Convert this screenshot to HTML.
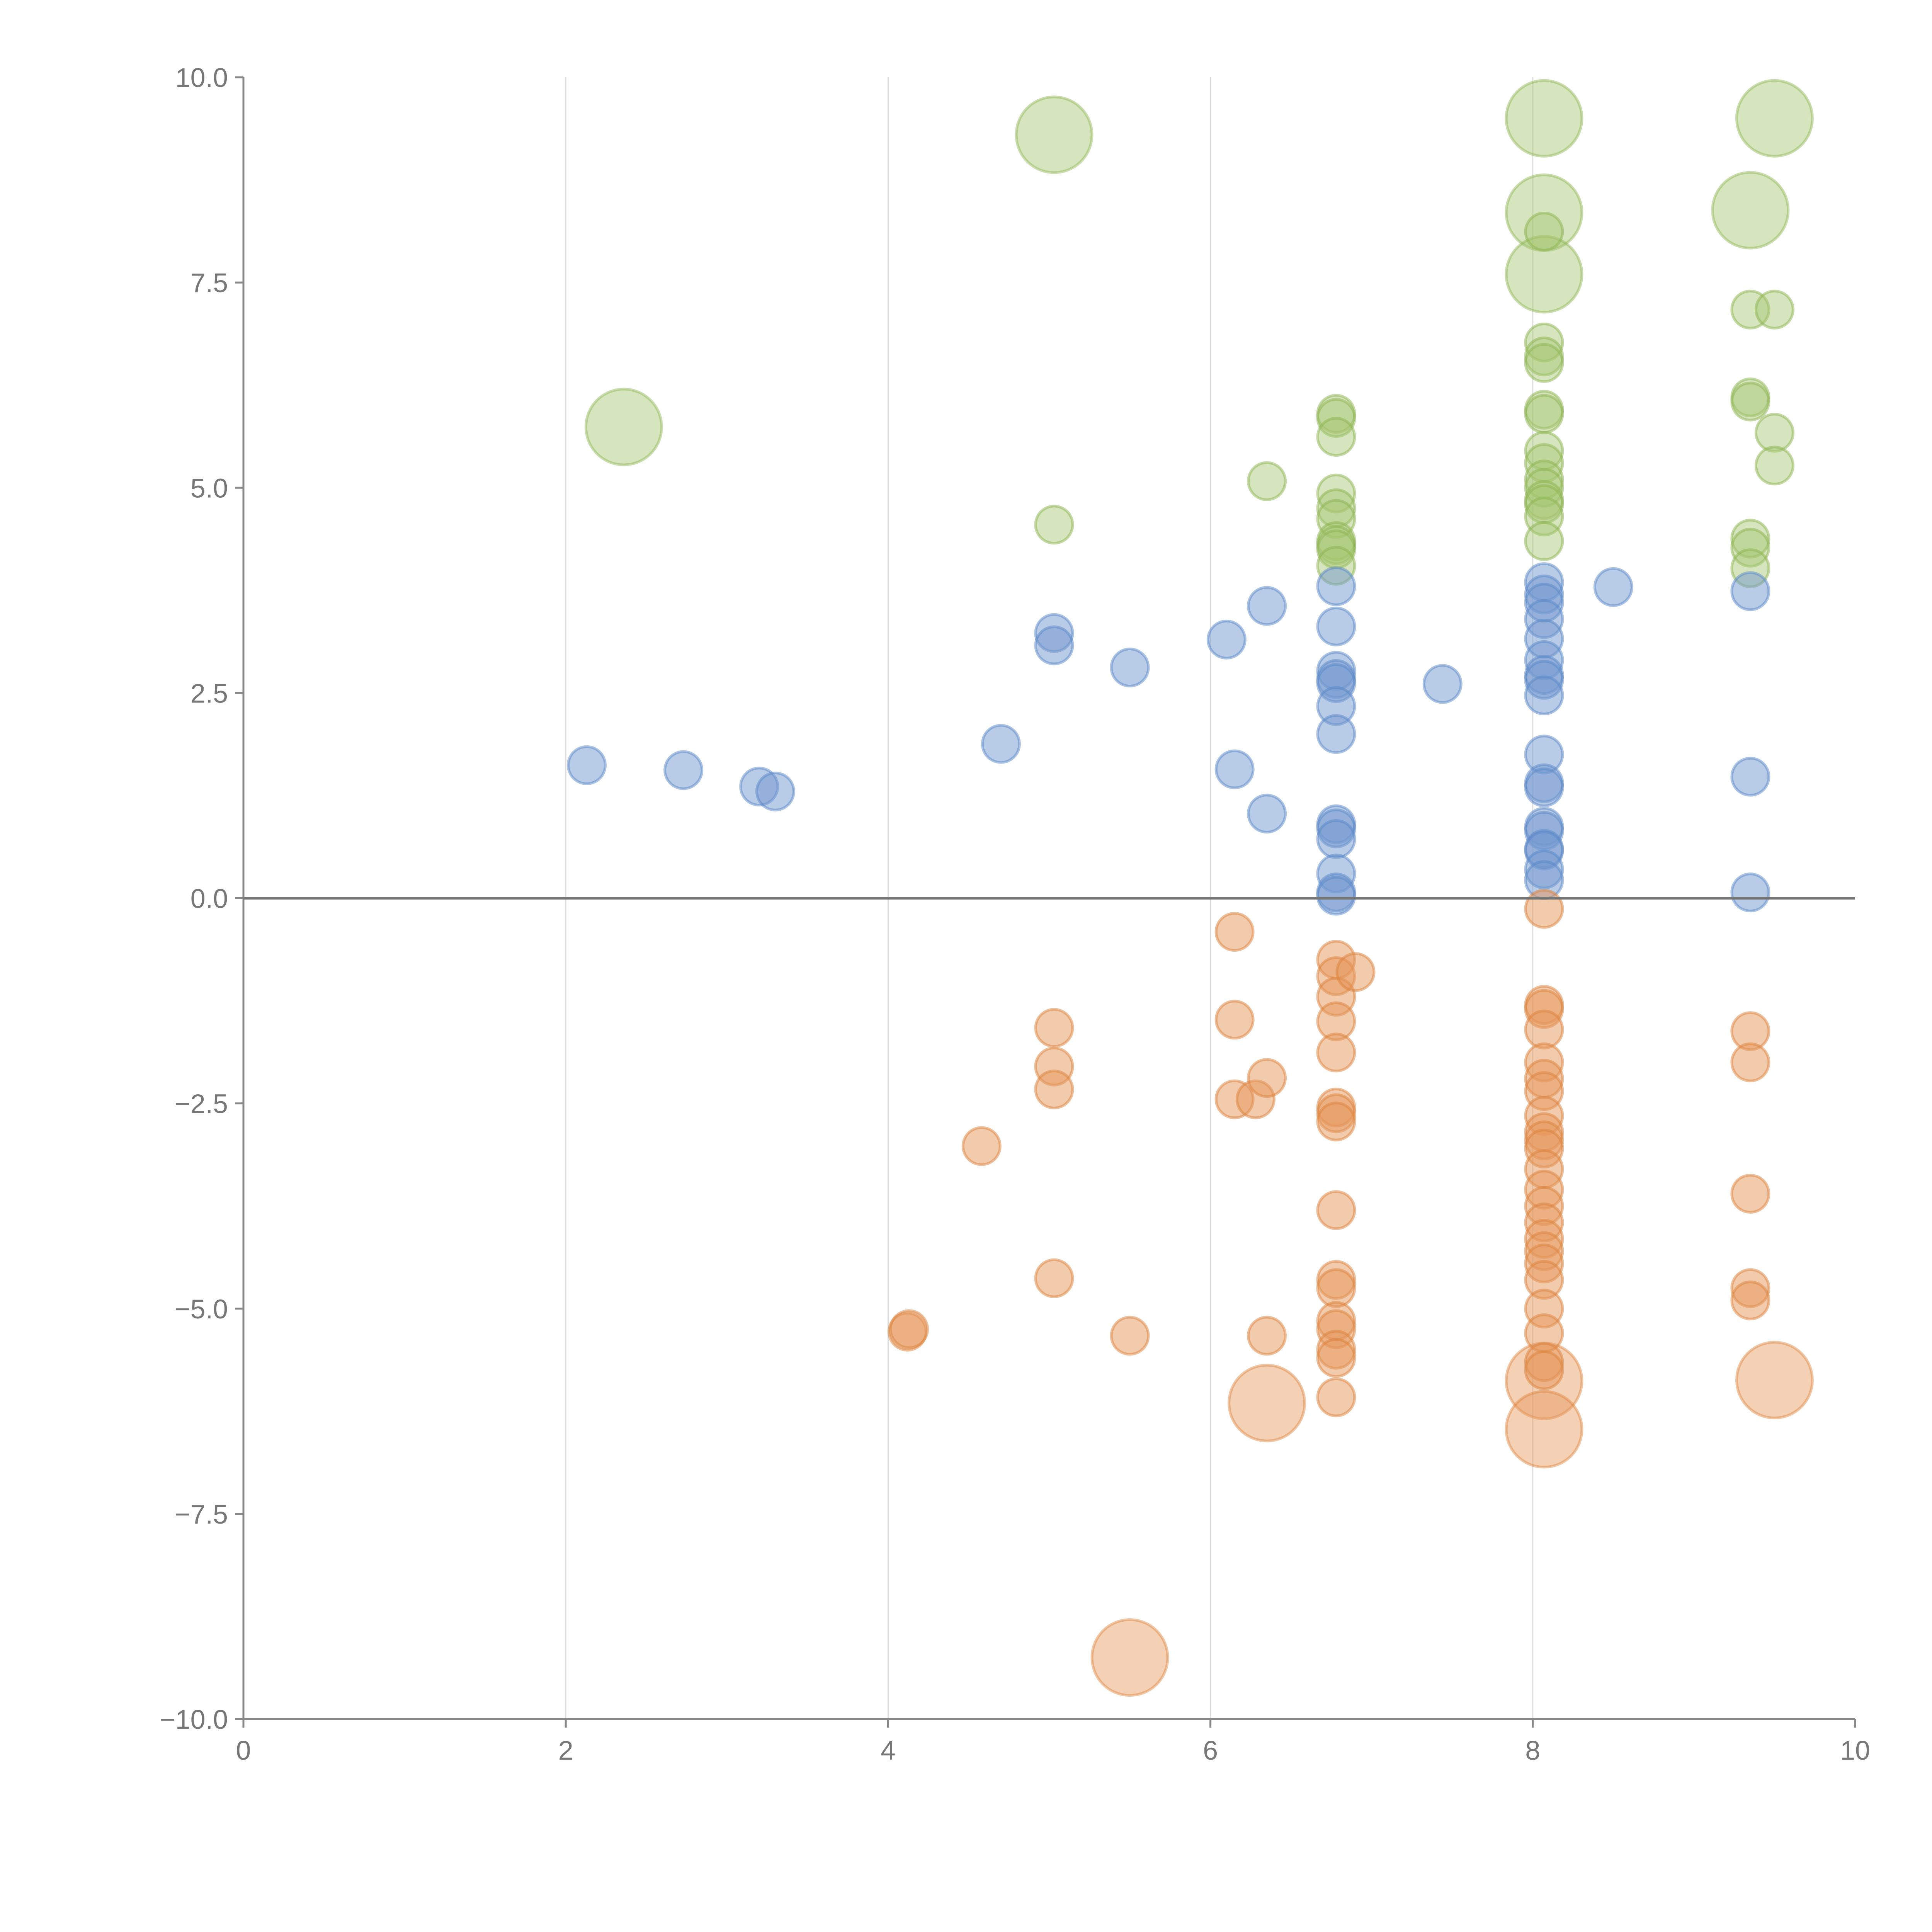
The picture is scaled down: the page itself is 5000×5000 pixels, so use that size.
<!DOCTYPE html>
<html><head><meta charset="utf-8"><style>html,body{margin:0;padding:0;background:#fff}svg{display:block}</style></head>
<body>
<svg id="chart" width="5000" height="5000" xmlns="http://www.w3.org/2000/svg" font-family="Liberation Sans, sans-serif"></svg>
<script>
const xTicks=[0,2,4,6,8,10];
const yTicks=[-10,-7.5,-5,-2.5,0,2.5,5,7.5,10];
const blueX=[2.13,2.73,3.2,3.3,4.7,5.03,5.03,5.5,6.1,6.15,6.35,6.35,6.78,6.78,6.78,6.78,6.78,6.78,6.78,6.78,6.78,6.78,6.78,6.78,6.78,7.44,8.07,8.07,8.07,8.07,8.07,8.07,8.07,8.07,8.07,8.07,8.07,8.07,8.07,8.07,8.07,8.07,8.07,8.07,8.5,9.35,9.35,9.35];
const blueY=[1.62,1.56,1.36,1.3,1.88,3.23,3.08,2.81,3.15,1.57,3.56,1.03,3.8,3.31,2.77,2.67,2.62,2.34,2.0,0.9,0.85,0.72,0.3,0.07,0.03,2.61,3.85,3.7,3.6,3.4,3.16,2.9,2.72,2.66,2.47,1.75,1.4,1.35,0.87,0.82,0.6,0.58,0.35,0.22,3.79,3.74,1.48,0.07];
const greenX=[5.03,6.35,6.78,6.78,6.78,6.78,6.78,6.78,6.78,6.78,6.78,6.78,8.07,8.07,8.07,8.07,8.07,8.07,8.07,8.07,8.07,8.07,8.07,8.07,8.07,8.07,9.35,9.35,9.35,9.35,9.35,9.35,9.5,9.5,9.5];
const greenY=[4.55,5.08,5.9,5.85,5.62,4.93,4.75,4.62,4.35,4.3,4.25,4.05,8.12,6.77,6.6,6.52,5.95,5.9,5.45,5.3,5.1,5.0,4.85,4.8,4.65,4.35,7.17,6.1,6.05,4.38,4.27,4.02,7.17,5.67,5.27];
const greenBigX=[2.36,5.03,8.07,8.07,8.07,9.35,9.5];
const greenBigY=[5.74,9.3,9.5,8.35,7.6,8.38,9.5];
const orangeX=[6.15,6.78,6.78,6.78,6.78,6.78,6.78,6.78,6.78,6.78,6.78,6.78,6.78,6.78,6.78,6.78,6.78,6.9,5.03,5.03,5.03,5.03,6.15,6.15,6.28,6.35,4.58,4.12,4.13,5.5,6.35,8.07,8.07,8.07,8.07,8.07,8.07,8.07,8.07,8.07,8.07,8.07,8.07,8.07,8.07,8.07,8.07,8.07,8.07,8.07,8.07,8.07,8.07,8.07,9.35,9.35,9.35,9.35,9.35];
const orangeY=[-0.41,-0.75,-0.95,-1.2,-1.5,-1.88,-2.55,-2.62,-2.72,-3.8,-4.65,-4.75,-5.15,-5.25,-5.5,-5.6,-6.08,-0.9,-1.58,-2.05,-2.33,-4.63,-1.48,-2.45,-2.45,-2.19,-3.02,-5.28,-5.25,-5.33,-5.33,-0.13,-1.3,-1.35,-1.6,-2.0,-2.2,-2.35,-2.65,-2.85,-2.95,-3.05,-3.3,-3.55,-3.75,-3.95,-4.15,-4.3,-4.45,-4.65,-5.0,-5.3,-5.65,-5.75,-1.62,-2.0,-3.6,-4.75,-4.9];
const orangeBigX=[6.35,8.07,8.07,9.5,5.5];
const orangeBigY=[-6.15,-5.88,-6.47,-5.87,-9.25];

const NS="http://www.w3.org/2000/svg";
const svg=document.getElementById('chart');
const X0=630,X1=4801,YT=200,YB=4449;
const sx=v=>X0+(v-0)/(10-0)*(X1-X0);
const sy=v=>YB-(v+10)/20*(YB-YT);
function mk(tag,attrs,parent){const e=document.createElementNS(NS,tag);for(const k in attrs)e.setAttribute(k,attrs[k]);(parent||svg).appendChild(e);return e;}

xTicks.forEach(t=>{
  if(t>0&&t<10){const g=mk('line',{x1:sx(t),x2:sx(t),y1:YT,y2:YB,stroke:'#dcdcdc','stroke-width':3});
  
  }
  const tk=mk('line',{x1:sx(t),x2:sx(t),y1:YB,y2:YB+22,stroke:'#888','stroke-width':5});
  
  
  const tx=mk('text',{x:sx(t),y:YB+105,'text-anchor':'middle','font-size':70,fill:'#777'});
  tx.textContent=t;
  
  
});
yTicks.forEach(t=>{
  const tk=mk('line',{x1:X0-22,x2:X0,y1:sy(t),y2:sy(t),stroke:'#888','stroke-width':5});
  
  
  const tx=mk('text',{x:X0-40,y:sy(t)+25,'text-anchor':'end','font-size':70,fill:'#777'});
  tx.textContent=(t<0?'\u2212':'')+Math.abs(t).toFixed(1);
  
  
});
const ya=mk('line',{x1:X0,x2:X0,y1:YT,y2:YB,stroke:'#888','stroke-width':5});


const xa=mk('line',{x1:X0,x2:X1,y1:YB,y2:YB,stroke:'#888','stroke-width':5});



function series(xs,ys,r,fill,stroke,name){
  xs.forEach((x,i)=>{
    const c=mk('circle',{cx:sx(x),cy:sy(ys[i]),r:r,fill:fill,stroke:stroke,'stroke-width':7});
    
    
  });
}
series(greenBigX,greenBigY,98,'rgba(165,198,110,0.45)','rgba(140,180,80,0.45)','green-big-bubble');
series(orangeBigX,orangeBigY,98,'rgba(230,150,90,0.45)','rgba(220,130,60,0.45)','orange-big-bubble');
series(greenX,greenY,48,'rgba(165,198,110,0.45)','rgba(140,180,80,0.5)','green-bubble');
series(blueX,blueY,48,'rgba(114,152,208,0.5)','rgba(90,135,200,0.5)','blue-bubble');
series(orangeX,orangeY,48,'rgba(230,150,90,0.5)','rgba(220,130,60,0.5)','orange-bubble');

const zl=mk('line',{x1:X0,x2:X1,y1:sy(0),y2:sy(0),stroke:'#777','stroke-width':7});


</script>
</body></html>
